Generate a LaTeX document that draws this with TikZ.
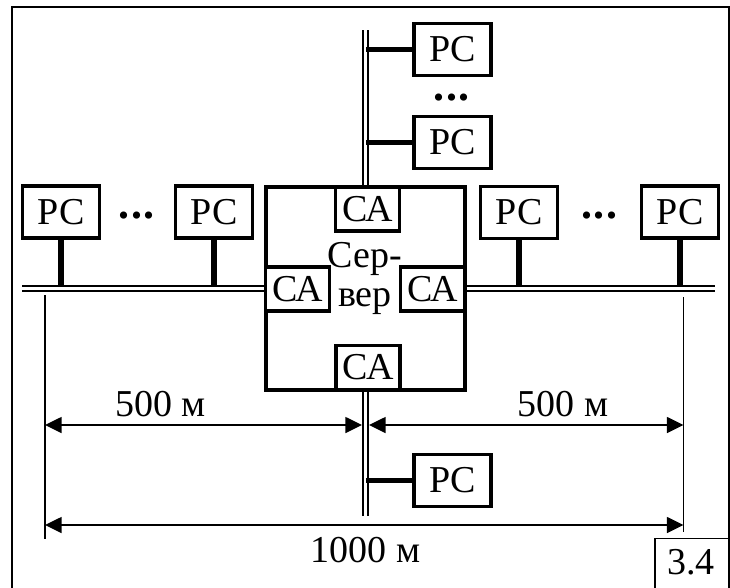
\documentclass[tikz,border=0pt]{standalone}
\usepackage{fontspec}
\setmainfont{Liberation Serif}
\usetikzlibrary{arrows.meta}
\begin{document}
\begin{tikzpicture}[x=0.75pt,y=-0.75pt,
  txt/.style={font=\fontsize{28.5}{30}\selectfont, inner sep=0pt},
  pc/.style={draw, line width=2.4pt, minimum width=57.75pt, minimum height=39pt, inner sep=0pt, fill=white, font=\fontsize{28.5}{30}\selectfont},
  ca/.style={pc, minimum width=48pt, minimum height=33pt},
  server/.style={draw, line width=3pt, outer sep=1.5pt, minimum width=149.6pt, minimum height=152.5pt, inner sep=0pt},
  bus/.style={double, line width=1.9pt, double distance=2.1pt},
  stub/.style={line width=3.8pt},
  dim/.style={line width=1.2pt, {Triangle[length=12.5pt,width=12pt]}-{Triangle[length=12.5pt,width=12pt]}},
  ext/.style={line width=1.4pt},
  dots/.style={font=\fontsize{33}{34}\selectfont\bfseries, inner sep=0pt, anchor=base}
]
\useasboundingbox (0,0) rectangle (730,587);
% frame
\draw[line width=1.7pt] (12.2,600) -- (12.2,7) -- (728.8,7) -- (728.8,600);
% server
\node[server] (srv) at (365.25,288.3) {};
\node[ca] (caT) at (367.5,209) {СА};
\node[ca] (caL) at (297.75,289) {СА};
\node[ca] (caR) at (432.85,289) {СА};
\node[ca] (caB) at (368,367.5) {СА};
\node[txt, anchor=base] (sl1) at (365,267.7) {Сер-};
\node[txt, anchor=base] (sl2) at (365,306.7) {вер};
% workstations
\node[pc] (L1) at (61,212) {РС};
\node[pc] (L2) at (214,212) {РС};
\node[pc] (R1) at (519,212.5) {РС};
\node[pc] (R2) at (680,212) {РС};
\node[pc] (T1) at (452.5,49.2) {РС};
\node[pc] (T2) at (452.5,142.2) {РС};
\node[pc] (B1) at (452.5,480.5) {РС};
\node[dots] (dL) at (136.7,218.5) {.\kern1.2pt.\kern1.2pt.};
\node[dots] (dR) at (599.3,218.5) {.\kern1.2pt.\kern1.2pt.};
\node[dots] (dT) at (451.7,100.5) {.\kern1.2pt.\kern1.2pt.};
% buses
\coordinate (hbL) at (22,288.5);
\coordinate (hbR) at (715,288.5);
\coordinate (hbt) at (0,287);
\coordinate (vbT) at (365.5,30);
\coordinate (vbB) at (365.5,516);
\draw[bus] (hbL) -- (hbL -| srv.west);
\draw[bus] (srv.east |- hbR) -- (hbR);
\draw[bus] (vbT) -- (vbT |- srv.north);
\draw[bus] (vbB |- srv.south) -- (vbB);
% stubs
\draw[stub] (L1.south) -- (L1.south |- hbt);
\draw[stub] (L2.south) -- (L2.south |- hbt);
\draw[stub] (R1.south) -- (R1.south |- hbt);
\draw[stub] (R2.south) -- (R2.south |- hbt);
\draw[stub] (T1.west) -- (T1.west -| vbT);
\draw[stub] (T2.west) -- (T2.west -| vbT);
\draw[stub] (B1.west) -- (B1.west -| vbT);
% dimensions
\coordinate (eL1) at (45,295);
\coordinate (eL2) at (45,539);
\coordinate (eR1) at (683.5,297);
\coordinate (eR2) at (683.5,532);
\draw[ext] (eL1) -- (eL2);
\draw[ext] (eR1) -- (eR2);
\coordinate (d1a) at (45,425);
\coordinate (d1b) at (362,425);
\coordinate (d2a) at (369,425);
\coordinate (d2b) at (683.5,425);
\coordinate (d3a) at (45,525);
\coordinate (d3b) at (683.5,525);
\draw[dim] (d1a) -- (d1b);
\draw[dim] (d2a) -- (d2b);
\draw[dim] (d3a) -- (d3b);
\node[txt, anchor=base] (l500a) at (160.6,416) {500 м};
\node[txt, anchor=base] (l500b) at (563,416) {500 м};
\node[txt, anchor=base] (l1000) at (365.5,562.7) {1000 м};
% figure number
\draw[line width=1.3pt] (655.2,600) -- (655.2,538.5) -- (728.8,538.5);
\node[txt, anchor=base] (fig) at (690.8,574) {3.4};
\end{tikzpicture}
\end{document}
